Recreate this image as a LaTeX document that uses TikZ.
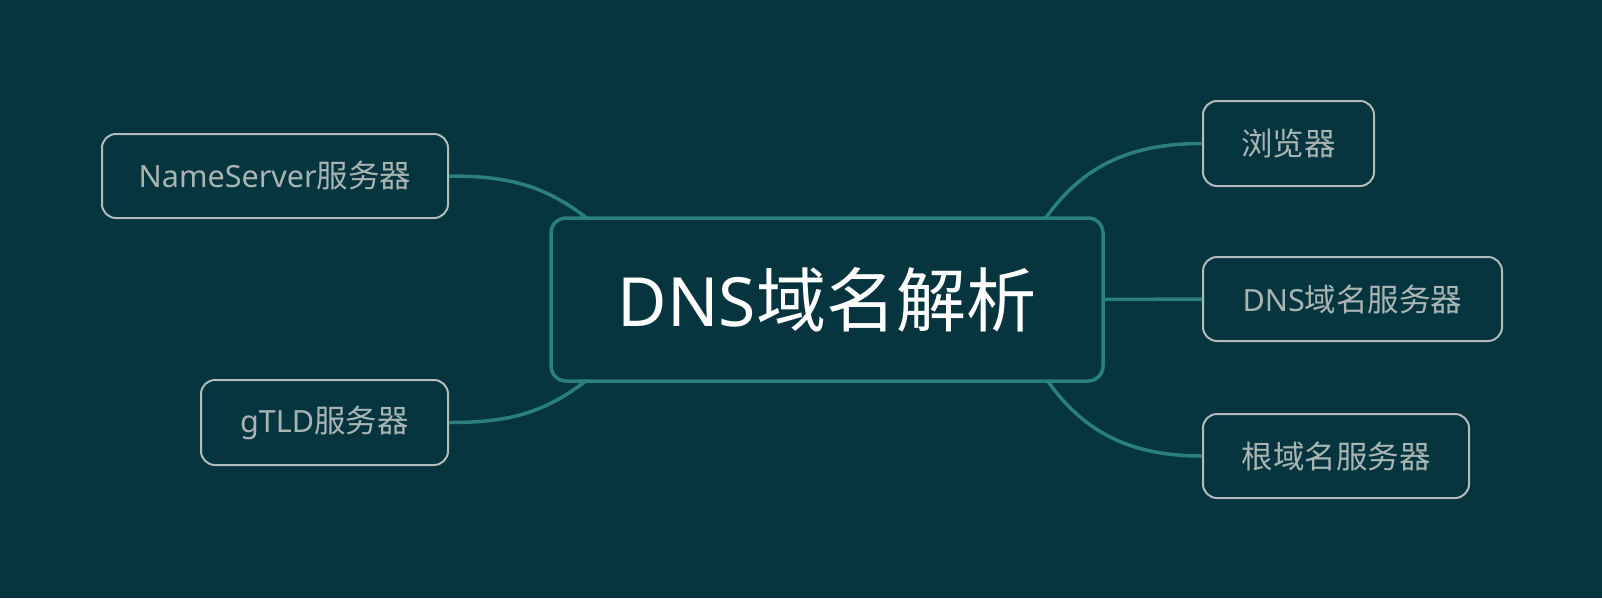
\documentclass[tikz,border=0pt]{standalone}
\usepackage{fontspec}
\setmainfont[Scale=0.97]{Noto Sans}
\newfontfamily\cjk{Noto Sans CJK SC}
\definecolor{bgc}{HTML}{06343F}
\definecolor{teal}{HTML}{2A807C}
\definecolor{graybd}{HTML}{B3BCBA}
\definecolor{graytx}{HTML}{A9B5B3}
\tikzset{
  rootbox/.style={draw=teal, line width=3.5pt, rounded corners=15pt, fill=bgc,
    inner sep=0pt, text=white, font=\fontsize{70}{84}\selectfont},
  childbox/.style={draw=graybd, line width=2pt, rounded corners=14pt, fill=bgc,
    inner sep=0pt, minimum height=84pt, text=graytx, font=\fontsize{31.5}{38}\selectfont},
  link/.style={draw=teal, line width=3.5pt}
}
\begin{document}
\begin{tikzpicture}[x=1pt,y=-1pt]
\fill[bgc] (0,0) rectangle (1602,598);
\useasboundingbox (0,0) rectangle (1602,598);
\coordinate (lt) at (588,219);
\coordinate (lb) at (587,380);
\coordinate (rt) at (1045,219);
\coordinate (rb) at (1047,380);
\node[childbox, minimum width=346pt] (ns) at (275,176) {NameServer{\cjk 服务器}};
\node[childbox, minimum width=247pt, minimum height=85pt] (gtld) at (324.5,422.5) {gTLD{\cjk 服务器}};
\node[childbox, minimum width=171pt, minimum height=85pt] (br) at (1288.5,143.5) {\cjk 浏览器};
\node[childbox, minimum width=299pt] (dns) at (1352.5,299) {DNS{\cjk 域名服务器}};
\node[childbox, minimum width=266pt] (rs) at (1336,456) {\cjk 根域名服务器};
\draw[link] (ns.east) to[out=0,in=142] (lt);
\draw[link] (gtld.east) to[out=0,in=-142] (lb);
\draw[link] (br.west) to[out=180,in=55] (rt);
\draw[link] (rs.west) to[out=180,in=-55] (rb);
\node[rootbox, minimum width=552pt, minimum height=163pt] (root) at (827,299.5) {DNS{\cjk 域名解析}};
\draw[link] (root.east) -- (dns.west);
\end{tikzpicture}
\end{document}
